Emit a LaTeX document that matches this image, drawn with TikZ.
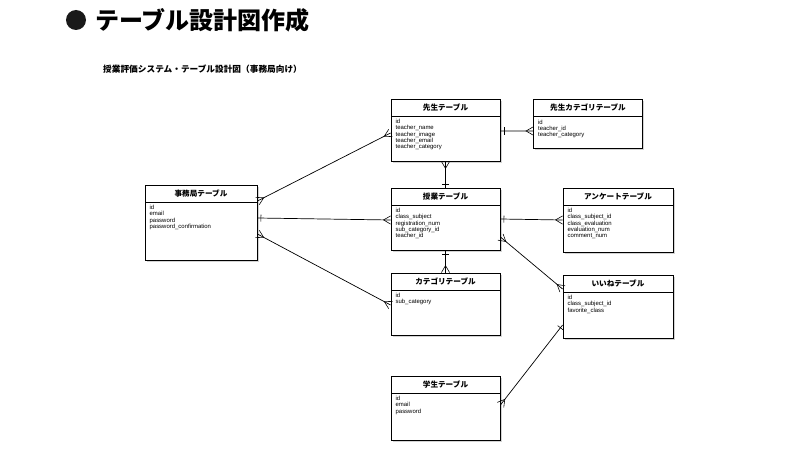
\documentclass[tikz,border=0pt]{standalone}
\usepackage{fontspec}
\setmainfont{Liberation Sans}
\newfontfamily\jp{Noto Sans CJK JP}
\usetikzlibrary{shadows, decorations.markings}

\begin{document}
\begin{tikzpicture}[
    x=0.03cm, y=-0.03cm,
    tbl/.style={draw, fill=white, line width=0.7pt, minimum width=3.27cm, minimum height=1.86cm,
                drop shadow={shadow xshift=1.6pt, shadow yshift=-1.6pt, opacity=0.35}},
    head/.style={draw, line width=0.5pt, anchor=north, minimum width=3.27cm, minimum height=0.51cm,
                 font=\jp\bfseries\fontsize{6.5}{7}\selectfont},
    fields/.style={anchor=north west, align=left, inner xsep=0.14cm, inner ysep=0.09cm,
                   font=\fontsize{5.1}{5.3}\selectfont},
    link/.style={line width=0.6pt},
    crowstart/.style={postaction={decorate, decoration={markings, mark=at position 0 with
                {\draw[line width=0.5pt] (0,3.5pt) -- (6pt,0) -- (0,-3.5pt);}}}},
    crowend/.style={postaction={decorate, decoration={markings, mark=at position 1 with
                {\draw[line width=0.5pt] (0,3.5pt) -- (-6pt,0) -- (0,-3.5pt);}}}},
    barstart/.style={postaction={decorate, decoration={markings, mark=at position 3pt with
                {\draw[line width=0.5pt] (0,3pt) -- (0,-3pt);}}}},
    barend/.style={postaction={decorate, decoration={markings, mark=at position -3pt with
                {\draw[line width=0.5pt] (0,3pt) -- (0,-3pt);}}}},
]
\useasboundingbox (0,0) rectangle (800,450);

% title
\node[circle, fill=black!90, minimum size=0.6cm, inner sep=0] (dot) at (76,20) {};
\node[anchor=west, inner sep=0, font=\jp\bfseries\fontsize{20.5}{24}\selectfont] (title) at (95,20) {テーブル設計図作成};
\node[anchor=west, inner sep=0, font=\jp\bfseries\fontsize{7.4}{8}\selectfont] (subtitle) at (103,69)
    {授業評価システム・テーブル設計図（事務局向け）};

% tables
\node[tbl, minimum width=3.36cm, minimum height=2.25cm] (jimu) at (201,222.5) {};
\node[head, minimum width=3.36cm] (jimuH) at (jimu.north) {事務局テーブル};
\node[fields] at (jimuH.south west) {id\\email\\password\\password\_confirmation};

\node[tbl] (sensei) at (445.5,130) {};
\node[head] (senseiH) at (sensei.north) {先生テーブル};
\node[fields] at (senseiH.south west) {id\\teacher\_name\\teacher\_image\\teacher\_email\\teacher\_category};

\node[tbl, minimum height=1.47cm] (senseicat) at (588,124) {};
\node[head] (senseicatH) at (senseicat.north) {先生カテゴリテーブル};
\node[fields] at (senseicatH.south west) {id\\teacher\_id\\teacher\_category};

\node[tbl] (jugyo) at (445.5,219) {};
\node[head] (jugyoH) at (jugyo.north) {授業テーブル};
\node[fields] at (jugyoH.south west) {id\\class\_subject\\registration\_num\\sub\_category\_id\\teacher\_id};

\node[tbl, minimum width=3.3cm, minimum height=1.92cm] (enquete) at (618,220) {};
\node[head, minimum width=3.3cm] (enqueteH) at (enquete.north) {アンケートテーブル};
\node[fields] at (enqueteH.south west) {id\\class\_subject\_id\\class\_evaluation\\evaluation\_num\\comment\_num};

\node[tbl] (category) at (445.5,304) {};
\node[head] (categoryH) at (category.north) {カテゴリテーブル};
\node[fields] at (categoryH.south west) {id\\sub\_category};

\node[tbl, minimum width=3.3cm, minimum height=1.89cm] (iine) at (618,306.5) {};
\node[head, minimum width=3.3cm] (iineH) at (iine.north) {いいねテーブル};
\node[fields] at (iineH.south west) {id\\class\_subject\_id\\favorite\_class};

\node[tbl, minimum height=1.92cm] (gakusei) at (445.5,408) {};
\node[head] (gakuseiH) at (gakusei.north) {学生テーブル};
\node[fields] at (gakuseiH.south west) {id\\email\\password};

% relations
\draw[link, crowstart, crowend] ([yshift=0.645cm]jimu.east) -- ([yshift=-0.09cm]sensei.west);
\draw[link, barstart, crowend] ([yshift=0.135cm]jimu.east) -- ([yshift=-0.03cm]jugyo.west);
\draw[link, crowstart, crowend] ([yshift=-0.345cm]jimu.east) -- ([yshift=-0.03cm]category.west);
\draw[link, crowstart, barend] (sensei.south) -- (jugyo.north);
\draw[link, barstart, crowend] ([yshift=-0.03cm]sensei.east) -- ([yshift=-0.21cm]senseicat.west);
\draw[link, barstart, crowend] (jugyo.east) -- (enquete.west);
\draw[link, crowstart, crowend] ([yshift=-0.54cm]jugyo.east) -- ([yshift=0.525cm]iine.west);
\draw[link, barstart, crowend] (jugyo.south) -- (category.north);
\draw[link, barstart, crowend] ([yshift=-0.555cm]iine.west) -- ([yshift=0.09cm]gakusei.east);

\end{tikzpicture}
\end{document}
